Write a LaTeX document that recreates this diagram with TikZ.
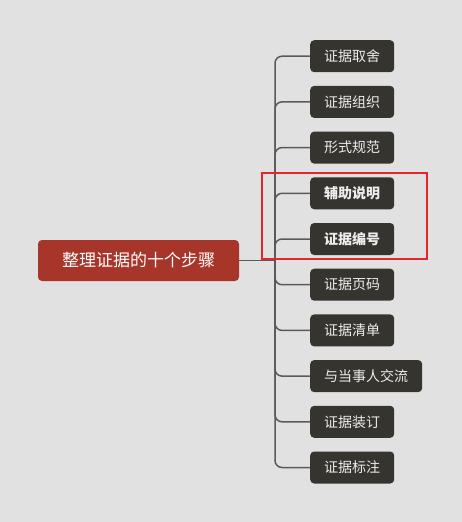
\documentclass[tikz,border=0pt]{standalone}
\usepackage{fontspec}
\setmainfont{Noto Sans CJK SC}
\usetikzlibrary{positioning}
\definecolor{bggray}{HTML}{E1E1E1}
\definecolor{rootred}{HTML}{A8352A}
\definecolor{stepdark}{HTML}{35342F}
\definecolor{linkgray}{HTML}{5A5A5A}
\definecolor{markred}{HTML}{E5242B}

\begin{document}
\begin{tikzpicture}[
    x=1pt, y=-1pt,
    node distance=13.3pt,
    root/.style={rectangle, fill=rootred, text=white, font=\fontsize{17}{20}\selectfont, minimum width=201pt, minimum height=41pt, rounded corners=4pt},
    stepbox/.style={rectangle, fill=stepdark, text=white!93!black, font=\fontsize{14}{17}\selectfont, minimum width=83pt, minimum height=32pt, inner xsep=14pt, rounded corners=4pt},
    link/.style={draw=linkgray, line width=1.5pt, rounded corners=7pt},
    highlight/.style={draw=markred, line width=2pt}
]
\fill[bggray] (0,0) rectangle (462,522);
% Nodes
\node[root] (root) at (138.5,260.5) {整理证据的十个步骤};
\node[stepbox, anchor=north west] (take) at (310,40) {证据取舍};
\node[stepbox, below=of take.south west, anchor=north west] (organize) {证据组织};
\node[stepbox, below=of organize.south west, anchor=north west] (form) {形式规范};
\node[stepbox, below=of form.south west, anchor=north west, font=\fontsize{14}{17}\selectfont\bfseries] (explain) {辅助说明};
\node[stepbox, below=of explain.south west, anchor=north west, font=\fontsize{14}{17}\selectfont\bfseries] (number) {证据编号};
\node[stepbox, below=of number.south west, anchor=north west] (page) {证据页码};
\node[stepbox, below=of page.south west, anchor=north west] (list) {证据清单};
\node[stepbox, below=of list.south west, anchor=north west] (talk) {与当事人交流};
\node[stepbox, below=of talk.south west, anchor=north west] (bind) {证据装订};
\node[stepbox, below=of bind.south west, anchor=north west] (mark) {证据标注};
\coordinate (trunk) at (275,260.5);

% Arrows
\draw[link] (root.east) -- (trunk);
\draw[link] (trunk) |- (take.west);
\draw[link] (trunk) |- (organize.west);
\draw[link] (trunk) |- (form.west);
\draw[link] (trunk) |- (explain.west);
\draw[link] (trunk) |- (number.west);
\draw[link] (trunk) |- (page.west);
\draw[link] (trunk) |- (list.west);
\draw[link] (trunk) |- (talk.west);
\draw[link] (trunk) |- (bind.west);
\draw[link] (trunk) |- (mark.west);

% Highlight
\draw[highlight] (262,173) rectangle (427,259);
\end{tikzpicture}
\end{document}
